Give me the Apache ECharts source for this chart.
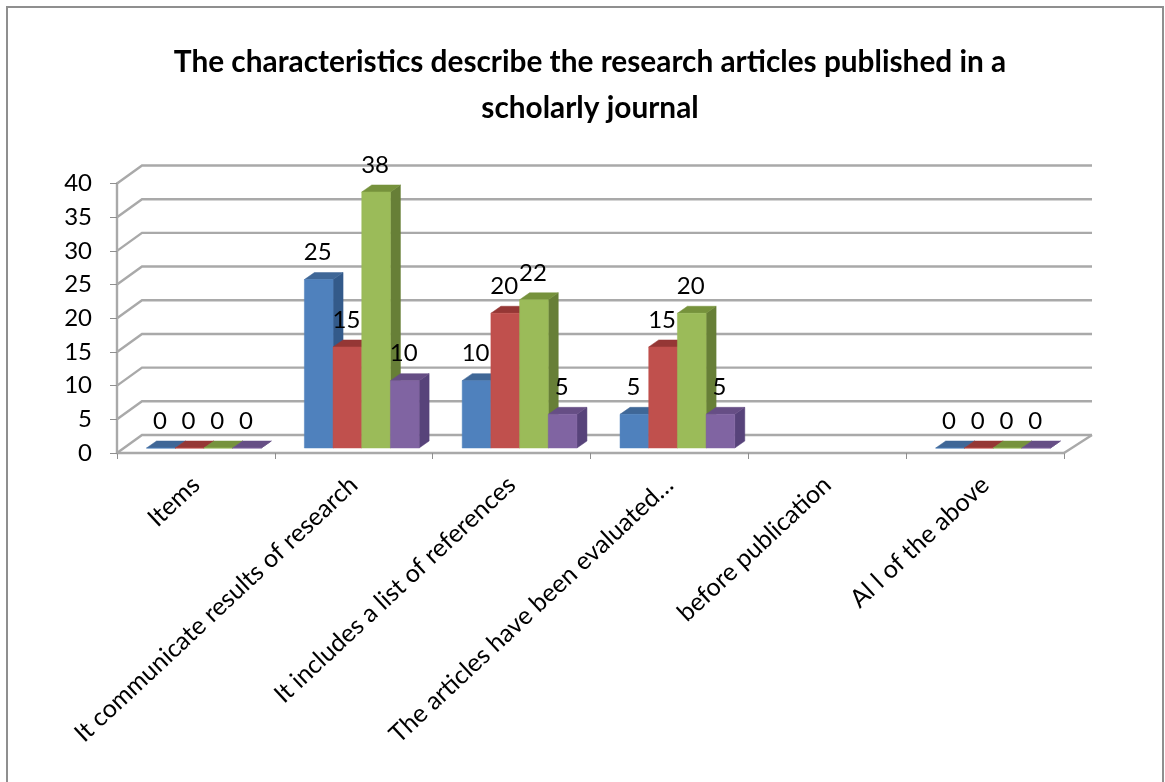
<!DOCTYPE html>
<html>
<head>
<meta charset="utf-8">
<style>html,body{margin:0;padding:0;background:#fff}#chart{width:1165px;height:782px}</style>
<script src="https://cdn.jsdelivr.net/npm/echarts@6/dist/echarts.min.js"></script>
</head>
<body>
<div id="chart"></div>
<script>
// Chart values
const chartTitle = 'The characteristics describe the research articles published in a\nscholarly journal';
const categories = ['Items', 'It communicate results of research', 'It includes a list of references', 'The articles have been evaluated…', 'before publication', 'Al l of the above'];
const blueValues = [0, 25, 10, 5, null, 0];
const redValues = [0, 15, 20, 15, null, 0];
const greenValues = [0, 38, 22, 20, null, 0];
const purpleValues = [0, 10, 5, 5, null, 0];
const valueTicks = [0, 5, 10, 15, 20, 25, 30, 35, 40];

// Face colours of the extruded columns: front, top, side
const palettes = [
  ['#4F81BD', '#3F6797', '#335A8A'],
  ['#C0504D', '#953735', '#8C3836'],
  ['#9BBB59', '#76923C', '#677F37'],
  ['#8064A2', '#664E85', '#57437A']
];
const seriesValues = [blueValues, redValues, greenValues, purpleValues];

// Oblique projection of the chart box
const WALL_DX = 25, WALL_DY = 18, WALL_END_DX = 28;
const BAR_SHIFT_X = 8, BAR_SHIFT_Y = 5;
const BAR_DEPTH_X = 10, BAR_DEPTH_Y = 7;
const GROUP_RATIO = 0.727;
const LABEL_GAP = 27;
const LINE = '#a9a9a9';
const FONT = 'Lato, Carlito, "Open Sans", sans-serif';

function wallItem(params, api) {
  const v = api.value(0);
  const y = api.coord([0, v])[1];
  const left = params.coordSys.x;
  const right = left + params.coordSys.width;
  const endX = right + WALL_END_DX;
  const points = [[left, y], [left + WALL_DX, y - WALL_DY], [endX, y - WALL_DY]];
  const children = [{ type: 'polyline', shape: { points }, style: { stroke: LINE, lineWidth: 2.4, fill: null } }];
  if (v === 0) {
    children.push({
      type: 'line',
      shape: { x1: right, y1: y, x2: endX, y2: y - WALL_DY },
      style: { stroke: LINE, lineWidth: 2.4 }
    });
  }
  return { type: 'group', children };
}

function barItem(seriesIndex) {
  const colors = palettes[seriesIndex];
  return function (params, api) {
    const cat = api.value(0), val = api.value(1);
    const band = api.size([1, 0])[0];
    const groupW = band * GROUP_RATIO, w = groupW / 4;
    const centre = api.coord([cat, 0]);
    const x0 = centre[0] + BAR_SHIFT_X - groupW / 2 + seriesIndex * w;
    const x1 = x0 + w;
    const yBase = centre[1] - BAR_SHIFT_Y;
    const yTop = yBase - (centre[1] - api.coord([cat, val])[1]);
    const dx = BAR_DEPTH_X, dy = BAR_DEPTH_Y;
    const poly = (points, fill) => ({ type: 'polygon', shape: { points }, style: { fill, stroke: fill, lineWidth: 0.5 } });
    return {
      type: 'group',
      children: [
        poly([[x1, yBase], [x1 + dx, yBase - dy], [x1 + dx, yTop - dy], [x1, yTop]], colors[2]),
        poly([[x0, yTop], [x0 + dx, yTop - dy], [x1 + dx, yTop - dy], [x1, yTop]], colors[1]),
        poly([[x0, yBase], [x1, yBase], [x1, yTop], [x0, yTop]], colors[0]),
        {
          type: 'text',
          z2: 100,
          style: {
            x: (x0 + x1) / 2 - 1, y: yTop - LABEL_GAP,
            text: String(val), fill: '#000', font: '24px ' + FONT,
            align: 'center', verticalAlign: 'middle'
          }
        }
      ]
    };
  };
}

const barSeries = seriesValues.map((values, i) => ({
  type: 'custom',
  z: 5,
  coordinateSystem: 'cartesian2d',
  renderItem: barItem(i),
  encode: { x: 0, y: 1 },
  data: values.map((v, c) => [c, v]).filter(d => d[1] !== null),
  silent: true
}));

const chart = echarts.init(document.getElementById('chart'), null, { renderer: 'canvas' });
chart.setOption({
  animation: false,
  backgroundColor: '#fff',
  title: {
    text: chartTitle,
    left: 585, top: 34, textAlign: 'center',
    textStyle: { fontFamily: FONT, fontWeight: 'bold', fontSize: 29.8, lineHeight: 46, color: '#000' }
  },
  graphic: [{
    type: 'polyline',
    shape: { points: [[7, 790], [7, 7], [1163, 7], [1163, 790]] },
    style: { stroke: '#8f8f8f', lineWidth: 2, fill: null },
    silent: true
  }],
  grid: { left: 117, right: 101, top: 183.5, bottom: 329 },
  xAxis: {
    type: 'category',
    data: categories,
    boundaryGap: true,
    axisLine: { show: true, lineStyle: { color: LINE, width: 2.4 } },
    axisTick: { show: true, alignWithLabel: false, length: 6, lineStyle: { color: '#8f8f8f', width: 1 } },
    axisLabel: { interval: 0, rotate: 43, margin: 28, fontFamily: FONT, fontSize: 25, color: '#000' },
    splitLine: { show: false }
  },
  yAxis: {
    type: 'value',
    min: 0, max: 40, interval: 5,
    axisLine: { show: true, lineStyle: { color: LINE, width: 2.4 } },
    axisTick: { show: true, length: 7, lineStyle: { color: '#8f8f8f', width: 1 } },
    axisLabel: { margin: 25, fontFamily: FONT, fontSize: 24, color: '#000', padding: [3, 0, 0, 0] },
    splitLine: { show: false }
  },
  series: [{
    type: 'custom',
    z: 1,
    name: 'wall',
    coordinateSystem: 'cartesian2d',
    renderItem: wallItem,
    encode: { y: 0 },
    data: valueTicks.map(v => [v]),
    silent: true
  }].concat(barSeries)
});
</script>
</body>
</html>
